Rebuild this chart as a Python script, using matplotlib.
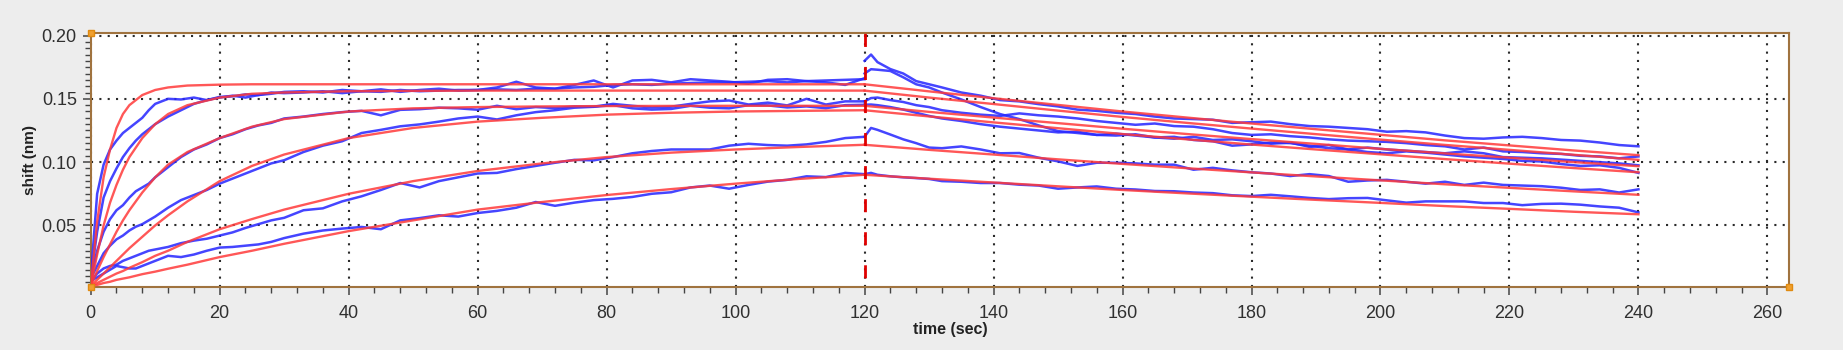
import matplotlib
matplotlib.use("Agg")
import matplotlib.pyplot as plt
from matplotlib.ticker import MultipleLocator, FormatStrFormatter

plt.rcParams['font.family'] = ['Liberation Sans', 'DejaVu Sans']

# ---------------- data ----------------
t_assoc = [0, 1, 2, 3, 4, 5, 6, 7, 8, 9, 10, 12, 14, 16, 18, 20, 22, 24, 26, 28, 30,
           33, 36, 39, 42, 45, 48, 51, 54, 57, 60, 63, 66, 69, 72, 75, 78, 81, 84, 87, 90,
           93, 96, 99, 102, 105, 108, 111, 114, 117, 120]

blue_assoc_1 = [0.008, 0.075, 0.098, 0.110, 0.117, 0.123, 0.127, 0.131, 0.135, 0.141, 0.146,
                0.150, 0.1495, 0.151, 0.149, 0.151, 0.1525, 0.151, 0.153, 0.154, 0.1555,
                0.156, 0.155, 0.157, 0.156, 0.1575, 0.1555, 0.157, 0.158, 0.1565, 0.157,
                0.159, 0.1635, 0.159, 0.158, 0.161, 0.1645, 0.159, 0.1645, 0.165, 0.163,
                0.1655, 0.1645, 0.1635, 0.162, 0.165, 0.1655, 0.164, 0.163, 0.161, 0.1663]
blue_assoc_2 = [0.008, 0.045, 0.072, 0.085, 0.095, 0.104, 0.111, 0.117, 0.122, 0.126, 0.130,
                0.136, 0.141, 0.146, 0.149, 0.1515, 0.152, 0.1535, 0.153, 0.155, 0.1545,
                0.155, 0.156, 0.1545, 0.156, 0.1555, 0.157, 0.156, 0.1565, 0.157, 0.157,
                0.1575, 0.157, 0.158, 0.158, 0.159, 0.1595, 0.161, 0.1615, 0.161, 0.162,
                0.1625, 0.163, 0.163, 0.1635, 0.164, 0.163, 0.164, 0.1645, 0.165, 0.1655]
blue_assoc_3 = [0.008, 0.030, 0.045, 0.055, 0.062, 0.066, 0.072, 0.077, 0.080, 0.083, 0.088,
                0.096, 0.104, 0.110, 0.114, 0.119, 0.122, 0.126, 0.129, 0.131, 0.1345,
                0.136, 0.138, 0.1395, 0.1405, 0.137, 0.1413, 0.1418, 0.143, 0.1425, 0.1414,
                0.1445, 0.1418, 0.1435, 0.1427, 0.1440, 0.1438, 0.146, 0.1445, 0.1432, 0.1438,
                0.146, 0.148, 0.1487, 0.1455, 0.147, 0.1448, 0.150, 0.1455, 0.148, 0.148]
blue_assoc_4 = [0.008, 0.018, 0.028, 0.034, 0.039, 0.042, 0.046, 0.049, 0.051, 0.054, 0.057,
                0.064, 0.070, 0.074, 0.078, 0.083, 0.087, 0.091, 0.095, 0.099, 0.1015,
                0.108, 0.113, 0.1165, 0.123, 0.1255, 0.1283, 0.1298, 0.132, 0.1345, 0.136,
                0.1337, 0.137, 0.1395, 0.141, 0.143, 0.1437, 0.145, 0.1425, 0.1415, 0.142,
                0.1445, 0.143, 0.1425, 0.145, 0.1448, 0.1432, 0.144, 0.1426, 0.145, 0.1453]
blue_assoc_5 = [0.006, 0.012, 0.016, 0.018, 0.019, 0.022, 0.024, 0.026, 0.028, 0.030, 0.031,
                0.033, 0.036, 0.038, 0.0395, 0.042, 0.0445, 0.048, 0.051, 0.054, 0.056,
                0.062, 0.0635, 0.069, 0.073, 0.078, 0.0835, 0.080, 0.085, 0.088, 0.091,
                0.0915, 0.0945, 0.097, 0.0995, 0.1018, 0.1014, 0.104, 0.107, 0.1088, 0.110,
                0.110, 0.110, 0.113, 0.1145, 0.1135, 0.113, 0.114, 0.116, 0.119, 0.120]
blue_assoc_6 = [0.006, 0.009, 0.012, 0.015, 0.018, 0.017, 0.016, 0.016, 0.018, 0.020, 0.022,
                0.026, 0.025, 0.027, 0.030, 0.0325, 0.033, 0.034, 0.035, 0.037, 0.040,
                0.0435, 0.046, 0.0475, 0.0488, 0.047, 0.054, 0.0558, 0.058, 0.057, 0.0598,
                0.0615, 0.064, 0.0685, 0.0655, 0.068, 0.070, 0.071, 0.0725, 0.075, 0.0762,
                0.080, 0.0815, 0.079, 0.082, 0.0846, 0.086, 0.0888, 0.0882, 0.0915, 0.0905]

t_diss = [120, 121, 122, 124, 126, 128, 130, 132, 135, 138, 141, 144, 147, 150, 153, 156,
          159, 162, 165, 168, 171, 174, 177, 180, 183, 186, 189, 192, 195, 198, 201, 204,
          207, 210, 213, 216, 219, 222, 225, 228, 231, 234, 237, 240]

blue_diss_1 = [0.180, 0.185, 0.179, 0.1735, 0.170, 0.164, 0.1615, 0.159, 0.155, 0.1525, 0.149,
               0.148, 0.1458, 0.144, 0.1415, 0.1405, 0.139, 0.138, 0.136, 0.1345, 0.134, 0.1335,
               0.131, 0.1315, 0.132, 0.130, 0.1285, 0.128, 0.127, 0.126, 0.124, 0.1245, 0.1235,
               0.121, 0.119, 0.1185, 0.1195, 0.120, 0.119, 0.1175, 0.117, 0.1155, 0.1135, 0.1125]
blue_diss_2 = [0.170, 0.1734, 0.173, 0.172, 0.167, 0.1615, 0.159, 0.155, 0.1495, 0.1435, 0.138,
               0.134, 0.129, 0.1245, 0.123, 0.1215, 0.1225, 0.121, 0.1195, 0.120, 0.1175, 0.1165,
               0.113, 0.114, 0.1155, 0.115, 0.113, 0.111, 0.110, 0.1115, 0.110, 0.109, 0.108,
               0.107, 0.1085, 0.107, 0.104, 0.1035, 0.103, 0.102, 0.101, 0.100, 0.099, 0.0975]
blue_diss_3 = [0.148, 0.1506, 0.151, 0.149, 0.1475, 0.145, 0.1435, 0.141, 0.139, 0.1375, 0.1365,
               0.1385, 0.137, 0.136, 0.1345, 0.1325, 0.131, 0.1295, 0.1305, 0.1285, 0.128, 0.126,
               0.123, 0.1215, 0.122, 0.1205, 0.1195, 0.118, 0.117, 0.1165, 0.116, 0.115, 0.1135,
               0.1125, 0.110, 0.1115, 0.1085, 0.108, 0.107, 0.1065, 0.105, 0.1045, 0.103, 0.1045]
blue_diss_4 = [0.1453, 0.1455, 0.145, 0.1435, 0.1415, 0.139, 0.1365, 0.1345, 0.1325, 0.130,
               0.128, 0.1265, 0.125, 0.1235, 0.124, 0.1215, 0.121, 0.122, 0.1195, 0.1185,
               0.120, 0.1175, 0.118, 0.1165, 0.1145, 0.1155, 0.112, 0.1135, 0.110, 0.108,
               0.107, 0.1085, 0.1075, 0.106, 0.1045, 0.1035, 0.1025, 0.101, 0.1005, 0.0985,
               0.097, 0.0975, 0.0955, 0.0915]
blue_diss_5 = [0.120, 0.127, 0.1255, 0.1218, 0.118, 0.115, 0.1115, 0.111, 0.1124, 0.110, 0.107,
               0.1072, 0.1035, 0.1006, 0.097, 0.0995, 0.0995, 0.099, 0.098, 0.098, 0.094, 0.0955,
               0.0935, 0.092, 0.091, 0.089, 0.0905, 0.089, 0.0845, 0.0855, 0.086, 0.0845, 0.083,
               0.0845, 0.082, 0.0838, 0.082, 0.0815, 0.081, 0.0798, 0.078, 0.0785, 0.076, 0.0785]
blue_diss_6 = [0.0905, 0.0915, 0.090, 0.0888, 0.088, 0.0874, 0.0867, 0.085, 0.0845, 0.0835,
               0.0835, 0.0822, 0.0815, 0.079, 0.080, 0.0808, 0.079, 0.0784, 0.0772, 0.077,
               0.076, 0.0755, 0.0738, 0.0732, 0.0742, 0.073, 0.0717, 0.0708, 0.0715, 0.0717,
               0.0698, 0.068, 0.069, 0.069, 0.069, 0.0677, 0.0677, 0.066, 0.067, 0.0672,
               0.0664, 0.065, 0.064, 0.0603]

fit_t_assoc = [0, 1, 2, 3, 4, 5, 6, 8, 10, 12, 15, 20, 25, 30, 40, 50, 60, 70, 80, 90, 100, 110, 120]
red_assoc_1 = [0.002, 0.053, 0.088, 0.110, 0.127, 0.138, 0.145, 0.153, 0.157, 0.159, 0.1605, 0.1612,
               0.1615, 0.1615, 0.1615, 0.1615, 0.1615, 0.1615, 0.1615, 0.1615, 0.1615, 0.1615, 0.1615]
red_assoc_2 = [0.002, 0.027, 0.050, 0.068, 0.082, 0.094, 0.104, 0.119, 0.130, 0.138, 0.145, 0.151,
               0.154, 0.155, 0.156, 0.1563, 0.1565, 0.1565, 0.1565, 0.1565, 0.1565, 0.1565, 0.1565]
red_assoc_3 = [0.002, 0.014, 0.025, 0.035, 0.045, 0.054, 0.062, 0.076, 0.088, 0.098, 0.108, 0.119,
               0.128, 0.134, 0.140, 0.1425, 0.1435, 0.144, 0.1443, 0.1444, 0.1445, 0.1445, 0.1445]
red_assoc_4 = [0.002, 0.007, 0.012, 0.017, 0.022, 0.027, 0.032, 0.041, 0.050, 0.058, 0.069, 0.085,
               0.097, 0.106, 0.119, 0.127, 0.132, 0.135, 0.1375, 0.139, 0.140, 0.1405, 0.141]
red_assoc_5 = [0.002, 0.0045, 0.007, 0.0095, 0.012, 0.014, 0.0165, 0.021, 0.026, 0.030, 0.037, 0.047,
               0.055, 0.0625, 0.075, 0.085, 0.093, 0.099, 0.104, 0.1075, 0.110, 0.112, 0.1137]
red_assoc_6 = [0.002, 0.003, 0.0045, 0.0055, 0.007, 0.008, 0.009, 0.0115, 0.0135, 0.0158, 0.019, 0.025,
               0.030, 0.0355, 0.0455, 0.054, 0.0625, 0.0685, 0.074, 0.0787, 0.083, 0.0868, 0.090]

fit_t_diss = [120, 130, 140, 150, 160, 170, 180, 190, 200, 210, 220, 230, 240]
red_diss_1 = [0.1615, 0.1559, 0.1505, 0.1452, 0.1400, 0.1352, 0.1305, 0.1260, 0.1216, 0.1172, 0.1132, 0.1092, 0.1055]
red_diss_2 = [0.1565, 0.1510, 0.1459, 0.1407, 0.1357, 0.1310, 0.1265, 0.1221, 0.1178, 0.1136, 0.1097, 0.1058, 0.1018]
red_diss_3 = [0.1445, 0.1397, 0.1352, 0.1308, 0.1264, 0.1222, 0.1182, 0.1144, 0.1105, 0.1069, 0.1035, 0.1000, 0.0968]
red_diss_4 = [0.1410, 0.1361, 0.1314, 0.1268, 0.1222, 0.1180, 0.1139, 0.1100, 0.1062, 0.1024, 0.0988, 0.0953, 0.0920]
red_diss_5 = [0.1137, 0.1097, 0.1060, 0.1022, 0.0986, 0.0952, 0.0919, 0.0887, 0.0856, 0.0825, 0.0797, 0.0769, 0.0742]
red_diss_6 = [0.0900, 0.0869, 0.0839, 0.0809, 0.0780, 0.0753, 0.0727, 0.0702, 0.0678, 0.0653, 0.0631, 0.0608, 0.0588]

switch_time = 120
x_label = "time (sec)"
y_label = "shift (nm)"

blue_assoc = [blue_assoc_1, blue_assoc_2, blue_assoc_3, blue_assoc_4, blue_assoc_5, blue_assoc_6]
blue_diss = [blue_diss_1, blue_diss_2, blue_diss_3, blue_diss_4, blue_diss_5, blue_diss_6]
red_assoc = [red_assoc_1, red_assoc_2, red_assoc_3, red_assoc_4, red_assoc_5, red_assoc_6]
red_diss = [red_diss_1, red_diss_2, red_diss_3, red_diss_4, red_diss_5, red_diss_6]

# ---------------- figure ----------------
W, H = 1843, 350
fig = plt.figure(figsize=(W / 100, H / 100), dpi=100, facecolor='#ededed')
ax_l, ax_r, ax_t, ax_b = 90.7, 1788.7, 32.5, 286.7
ax = fig.add_axes([ax_l / W, 1 - ax_b / H, (ax_r - ax_l) / W, (ax_b - ax_t) / H])
ax.set_facecolor('white')

BLUE = '#2b2bff'
RED = '#ff3a3a'

for yv in blue_assoc:
    ax.plot(t_assoc, yv, color=BLUE, lw=1.8, alpha=0.88, zorder=3)
for yv in blue_diss:
    ax.plot(t_diss, yv, color=BLUE, lw=1.8, alpha=0.88, zorder=3)
for yv in red_assoc:
    ax.plot(fit_t_assoc, yv, color=RED, lw=1.7, alpha=0.85, zorder=4)
for yv in red_diss:
    ax.plot(fit_t_diss, yv, color=RED, lw=1.7, alpha=0.85, zorder=4)

ax.axvline(switch_time, color='#e00000', lw=2.0, linestyle=(8.6, (4.7, 7.2)), zorder=5)

ax.set_xlim(0, 263.3)
ax.set_ylim(0.0016, 0.2024)

ax.xaxis.set_major_locator(MultipleLocator(20))
ax.xaxis.set_minor_locator(MultipleLocator(4))
ax.yaxis.set_major_locator(MultipleLocator(0.05))
ax.yaxis.set_minor_locator(MultipleLocator(0.005))
ax.yaxis.set_major_formatter(FormatStrFormatter('%.2f'))

ax.grid(True, which='major', color='#2a2a2a', linestyle=(0, (1, 3)), lw=1.5, zorder=1)
ax.set_axisbelow(True)

ax.tick_params(axis='both', which='major', direction='out', length=6, width=1.1,
               color='#444444', labelsize=13, labelcolor='#303030')
ax.tick_params(axis='both', which='minor', direction='out', length=4.5, width=1.0, color='#444444')
ax.tick_params(axis='x', which='major', pad=7)
ax.tick_params(axis='y', which='major', pad=4)

for s in ax.spines.values():
    s.set_color('#a0733f')
    s.set_linewidth(1.5)

ax.set_xlabel(x_label, fontsize=11.5, fontweight='bold', color='#222222')
ax.set_ylabel(y_label, fontsize=11, fontweight='bold', color='#222222')
ax.xaxis.set_label_coords(0.506, -0.137)
ax.xaxis.label.set_va('top')
ax.yaxis.set_label_coords(-0.0318, 0.5)

# orange corner handles
for cx, cy in [(0, 1), (0, 0), (1, 0)]:
    ax.plot([cx], [cy], marker='s', ms=4.5, color='#f0a030', mec='#e08a10',
            transform=ax.transAxes, clip_on=False, zorder=10)

fig.savefig('out.png', dpi=100, facecolor=fig.get_facecolor())
